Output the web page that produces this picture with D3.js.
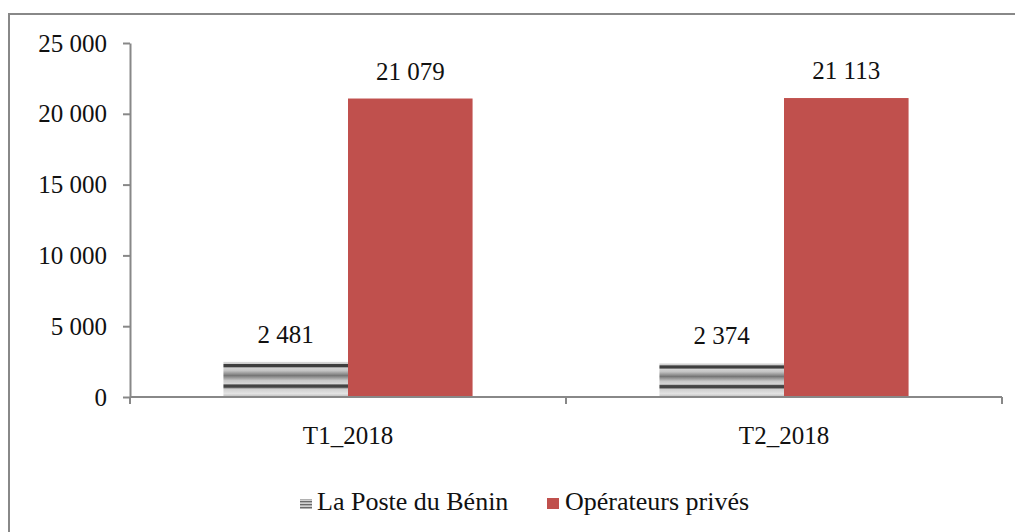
<!DOCTYPE html>
<html>
<head>
<meta charset="UTF-8">
<title>Poste vs opérateurs privés</title>
<script src="https://d3js.org/d3.v7.min.js"></script>
<style>
  body { margin: 0; background: #fff; }
  text { font-family: "Liberation Serif", "DejaVu Serif", serif; fill: #111; }
  .axis path, .axis line { stroke: #888; stroke-width: 2; fill: none; }
</style>
</head>
<body>
<script>
// data
var categories = ["T1_2018", "T2_2018"];
var seriesNames = ["La Poste du Bénin", "Opérateurs privés"];
var posteValues = [2481, 2374];
var operateursValues = [21079, 21113];
var yTickValues = [0, 5000, 10000, 15000, 20000, 25000];

var W = 1015, H = 532;
var plotLeft = 130, plotRight = 1002, plotTop = 43, plotBottom = 397;

var fr = d3.formatLocale({decimal: ",", thousands: " ", grouping: [3], currency: ["", ""]});
var fmt = fr.format(",");

var svg = d3.select("body").append("svg")
    .attr("width", W)
    .attr("height", H);

var defs = svg.append("defs");

// striped gradient used for La Poste bars
var grad = defs.append("linearGradient")
    .attr("id", "stripes")
    .attr("x1", 0).attr("y1", 0).attr("x2", 0).attr("y2", 1);
[
  [0, "#d9d9d9"], [0.05, "#cfcfcf"], [0.07, "#3e3e3e"], [0.14, "#3e3e3e"],
  [0.17, "#d2d2d2"], [0.25, "#c4c4c4"], [0.39, "#767676"], [0.53, "#c8c8c8"],
  [0.62, "#d6d6d6"], [0.66, "#444"], [0.72, "#444"], [0.77, "#cfcfcf"],
  [0.9, "#e3e3e3"], [1, "#bdbdbd"]
].forEach(function (s) {
  grad.append("stop").attr("offset", s[0]).attr("stop-color", s[1]);
});

var legPat = defs.append("pattern")
    .attr("id", "legstripes")
    .attr("patternUnits", "userSpaceOnUse")
    .attr("width", 4).attr("height", 3);
legPat.append("rect").attr("width", 4).attr("height", 3).attr("fill", "#d0d0d0");
legPat.append("rect").attr("width", 4).attr("height", 1.3).attr("fill", "#6a6a6a");

// outer frame
svg.append("rect")
    .attr("x", 9).attr("y", 14)
    .attr("width", 1020).attr("height", 540)
    .attr("fill", "none")
    .attr("stroke", "#888")
    .attr("stroke-width", 2);

var x = d3.scaleBand()
    .domain(categories)
    .range([plotLeft, plotRight]);

var xs = d3.scaleBand()
    .domain(seriesNames)
    .range([0, x.bandwidth()])
    .paddingOuter(0.75);

var y = d3.scaleLinear()
    .domain([0, 25000])
    .range([plotBottom, plotTop]);

// y axis
var yAxis = svg.append("g")
    .attr("class", "axis")
    .attr("transform", "translate(" + plotLeft + ",0)")
    .call(d3.axisLeft(y).tickValues(yTickValues).tickFormat(fmt)
        .tickSize(7).tickSizeOuter(0).tickPadding(16));
yAxis.selectAll("text")
    .style("font-size", "25px")
    .style("font-family", "Liberation Serif, serif")
    .attr("fill", "#111");

// bars
var rows = categories.map(function (c, i) {
  return {cat: c, vals: [posteValues[i], operateursValues[i]]};
});

var groups = svg.selectAll(".grp")
    .data(rows)
    .enter().append("g")
    .attr("class", "grp")
    .attr("transform", function (d) { return "translate(" + x(d.cat) + ",0)"; });

groups.selectAll("rect")
    .data(function (d) {
      return d.vals.map(function (v, j) { return {name: seriesNames[j], v: v}; });
    })
    .enter().append("rect")
    .attr("x", function (d) { return xs(d.name); })
    .attr("y", function (d) { return y(d.v); })
    .attr("width", xs.bandwidth())
    .attr("height", function (d) { return plotBottom - y(d.v); })
    .attr("fill", function (d, j) { return j === 0 ? "url(#stripes)" : "#c0504d"; });

groups.selectAll(".lbl")
    .data(function (d) {
      return d.vals.map(function (v, j) { return {name: seriesNames[j], v: v}; });
    })
    .enter().append("text")
    .attr("class", "lbl")
    .attr("x", function (d) { return xs(d.name) + xs.bandwidth() / 2; })
    .attr("y", function (d) { return y(d.v) - 19; })
    .attr("text-anchor", "middle")
    .style("font-size", "25px")
    .text(function (d) { return fmt(d.v); });

// x axis
var xAxis = svg.append("g").attr("class", "axis");
xAxis.append("line")
    .attr("x1", plotLeft).attr("x2", plotRight)
    .attr("y1", plotBottom).attr("y2", plotBottom);
var bounds = [plotLeft].concat(categories.map(function (c) { return x(c) + x.bandwidth(); }));
xAxis.selectAll(".tk")
    .data(bounds)
    .enter().append("line")
    .attr("class", "tk")
    .attr("x1", function (d) { return d; }).attr("x2", function (d) { return d; })
    .attr("y1", plotBottom).attr("y2", plotBottom + 7);
xAxis.selectAll(".cat")
    .data(categories)
    .enter().append("text")
    .attr("class", "cat")
    .attr("x", function (d) { return x(d) + x.bandwidth() / 2; })
    .attr("y", plotBottom + 47)
    .attr("text-anchor", "middle")
    .style("font-size", "25px")
    .text(function (d) { return d; });

// legend
var legend = svg.append("g");
var legX = [300, 547];
seriesNames.forEach(function (name, j) {
  var g = legend.append("g").attr("transform", "translate(" + legX[j] + ",0)");
  g.append("rect")
      .attr("x", 0).attr("y", j === 0 ? 499 : 498)
      .attr("width", 12).attr("height", j === 0 ? 10 : 11)
      .attr("fill", j === 0 ? "url(#legstripes)" : "#c0504d");
  g.append("text")
      .attr("x", j === 0 ? 17 : 18).attr("y", 510)
      .style("font-size", "26px")
      .text(name);
});
</script>
</body>
</html>
